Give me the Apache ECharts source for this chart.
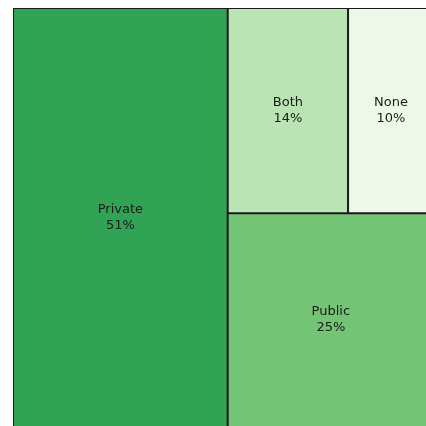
<!DOCTYPE html>
<html>
<head>
<meta charset="utf-8">
<script src="https://cdn.jsdelivr.net/npm/echarts@6/dist/echarts.min.js"></script>
<style>
    html, body { margin: 0; padding: 0; background: #fff; }
    #chart { width: 426px; height: 426px; }
</style>
</head>
<body>
<div id="chart"></div>
<script>
// shares in percent
const names = ["Private", "Both", "None", "Public"];
const shares = [51, 14, 10, 25];
const colors = ["#31a354", "#bae4b3", "#edf8e9", "#74c476"];

const leaf = (i) => ({
    name: names[i],
    value: shares[i],
    itemStyle: { color: colors[i] },
});

// Both + None sit together in one block so the layout keeps them on top
const treeData = [
    leaf(0),
    {
        name: "group",
        value: shares[1] + shares[2],
        itemStyle: { borderWidth: 0, gapWidth: 0 },
        label: { show: false },
        children: [leaf(1), leaf(2)],
    },
    leaf(3),
];

const chart = echarts.init(document.getElementById("chart"), null, { renderer: "canvas" });
chart.setOption({
    animation: false,
    series: [
        {
            type: "treemap",
            left: 13,
            top: 8,
            width: 421,
            height: 419,
            sort: false,
            squareRatio: 1,
            roam: false,
            nodeClick: false,
            breadcrumb: { show: false },
            itemStyle: { borderColor: "#1a1a1a", borderWidth: 1, gapWidth: 0 },
            label: {
                show: true,
                position: "inside",
                align: "center",
                verticalAlign: "middle",
                color: "#1a1a1a",
                fontFamily: "DejaVu Sans",
                fontSize: 13,
                lineHeight: 16,
                formatter: (p) => p.name + "\n" + p.value + "%",
            },
            levels: [
                { itemStyle: { borderWidth: 0, gapWidth: 0 } },
                { itemStyle: { borderColor: "#1a1a1a", borderWidth: 1, gapWidth: 0 } },
                { itemStyle: { borderColor: "#1a1a1a", borderWidth: 1, gapWidth: 0 } },
            ],
            emphasis: { disabled: true },
            data: treeData,
        },
    ],
});
</script>
</body>
</html>
